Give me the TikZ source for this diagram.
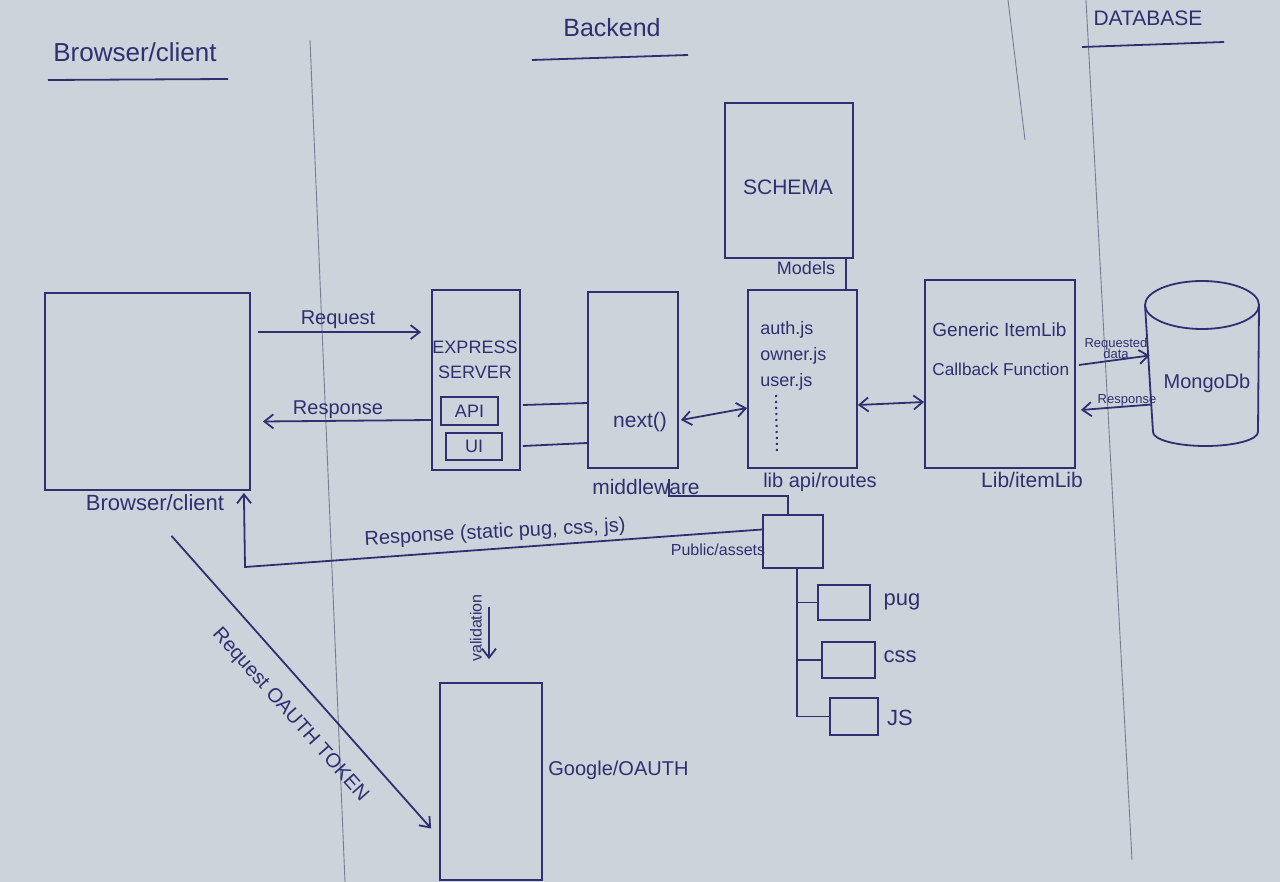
\documentclass[tikz,border=0pt]{standalone}
\usepackage{fontspec}
\setmainfont{Liberation Sans}
\usetikzlibrary{arrows.meta,calc,fit}
\definecolor{paper}{RGB}{204,211,219}
\definecolor{ink}{RGB}{46,48,112}
\definecolor{pencil}{RGB}{118,124,150}
\newcommand\fsz[1]{\fontsize{#1}{#1}\selectfont}
\begin{document}
\begin{tikzpicture}[x=0.5pt,y=-0.5pt,
  inkline/.style={draw=ink,line width=0.9pt},
  box/.style={draw=ink,line width=0.9pt,inner sep=0pt,fit={#1}},
  ghost/.style={inner sep=0pt,fit={#1}},
  txt/.style={text=ink,inner sep=1pt,font=\fsz{10}},
  arr/.style={inkline,-{Straight Barb[length=4.5pt,width=7pt]}},
  darr/.style={inkline,{Straight Barb[length=4.5pt,width=7pt]}-{Straight Barb[length=4.5pt,width=7pt]}},
  lane/.style={draw=pencil,line width=0.45pt}]
\fill[paper] (0,0) rectangle (1280,882);
\useasboundingbox (0,0) rectangle (1280,882);

% lane lines
\draw[lane] (310,40) -- (345,882);
\draw[lane] (1008,0) -- (1025,140);
\draw[lane] (1086,0) -- (1132,860);

% headers
\node[txt,font=\fsz{13}] (hclient) at (135,52) {Browser/client};
\draw[inkline] (48,80) -- (228,79);
\node[txt,font=\fsz{12.5}] (hback) at (612,28) {Backend};
\draw[inkline] (532,60) -- (688,55);
\node[txt,font=\fsz{10.5}] (hdb) at (1148,18) {DATABASE};
\draw[inkline] (1082,47) -- (1224,42);

% boxes
\node[box={(45,293) (250,490)}] (browser) {};
\node[box={(432,290) (520,470)}] (express) {};
\node[box={(441,397) (498,425)}] (api) {};
\node[box={(446,433) (502,460)}] (ui) {};
\node[box={(588,292) (678,468)}] (mw) {};
\node[box={(748,290) (857,468)}] (routes) {};
\node[box={(725,103) (853,258)}] (schema) {};
\node[box={(925,280) (1075,468)}] (itemlib) {};
\node[box={(763,515) (823,568)}] (public) {};
\node[box={(818,585) (870,620)}] (pug) {};
\node[box={(822,642) (875,678)}] (css) {};
\node[box={(830,698) (878,735)}] (js) {};
\node[box={(440,683) (542,880)}] (google) {};

% mongo cylinder
\node[ghost={(1145,281) (1259,446)}] (mongo) {};
\draw[inkline] (1202,305) ellipse [x radius=57, y radius=24];
\draw[inkline] (1145,305) -- (1153,432);
\draw[inkline] (1259,305) -- (1258,432);
\draw[inkline] (1153,432) arc[start angle=180, end angle=0, x radius=52.5, y radius=14];

% texts
\node[txt,font=\fsz{11}] (lbrowser) at (155,503) {Browser/client};
\node[txt,font=\fsz{9}] (texp1) at (475,347) {EXPRESS};
\node[txt,font=\fsz{9}] (texp2) at (475,372) {SERVER};
\node[txt,font=\fsz{9}] at (api) {API};
\node[txt,font=\fsz{9}] at (ui) {UI};
\node[txt,font=\fsz{10.5}] (tnext) at (640,422) {next()};
\node[txt,font=\fsz{10.5}] (lmw) at (646,487) {middleware};
\node[txt,font=\fsz{9},anchor=west] (tauth) at (758,330) {auth.js};
\node[txt,font=\fsz{9},anchor=west] (towner) at (758,356) {owner.js};
\node[txt,font=\fsz{9},anchor=west] (tuser) at (758,382) {user.js};
\draw[ink,line width=1pt,dotted] (776,395) -- (777,452);
\node[txt,font=\fsz{10}] (lroutes) at (820,482) {lib api/routes};
\node[txt,font=\fsz{10.5}] (tschema) at (788,187) {SCHEMA};
\node[txt,font=\fsz{9}] (lmodels) at (806,268) {Models};
\node[txt,font=\fsz{9.5},anchor=west] (tgen) at (930,330) {Generic ItemLib};
\node[txt,font=\fsz{8.6},anchor=west] (tcb) at (930,369) {Callback Function};
\node[txt,font=\fsz{10.5}] (litem) at (1032,480) {Lib/itemLib};
\node[txt,font=\fsz{10}] (tmongo) at (1207,383) {MongoDb};
\node[txt,font=\fsz{6.5},align=center] (treqd) at (1116,348) {Requested\\[-1pt]data};
\node[txt,font=\fsz{6.5}] (tresp2) at (1127,400) {Response};
\node[txt] (treq) at (338,320) {Request};
\node[txt] (tresp) at (338,410) {Response};
\node[txt,rotate=3] (tstatic) at (495,533) {Response (static pug, css, js)};
\node[txt,font=\fsz{8}] (lpublic) at (718,550) {Public/assets};
\node[txt,font=\fsz{11}] (lpug) at (902,602) {pug};
\node[txt,font=\fsz{11}] (lcss) at (900,657) {css};
\node[txt,font=\fsz{11}] (ljs) at (900,718) {JS};
\node[txt,rotate=-48.4] (toauth) at (290,715) {Request OAUTH TOKEN};
\node[txt,font=\fsz{10},anchor=west] (lgoogle) at (546,770) {Google/OAUTH};
\node[txt,font=\fsz{8},rotate=90] (tval) at (476,628) {validation};

% connectors
\draw[arr] ($(browser.north east)+(7,40)$) -- ($(express.north west)+(-10,43)$);
\draw[arr] ($(express.west)+(0,40)$) -- ($(browser.east)+(12,30)$);
\draw[inkline] ($(express.east)+(2,25)$) -- ($(mw.west)+(0,23)$);
\draw[inkline] ($(express.east)+(2,66)$) -- ($(mw.west)+(0,63)$);
\draw[darr] ($(mw.east)+(2,40)$) -- ($(routes.west)+(0,29)$);
\draw[darr] ($(routes.east)+(0,26)$) -- ($(itemlib.west)+(0,28)$);
\draw[inkline] ($(schema.south east)+(-8,0)$) -- ($(routes.north east)+(-12,0)$);
\draw[arr] ($(itemlib.east)+(3,-9)$) -- ($(mongo.west)+(5,-8)$);
\draw[arr] ($(mongo.west)+(7,41)$) -- ($(itemlib.east)+(5,36)$);
\draw[inkline] ($(mw.south east)+(-10,10)$) |- ($(public.north)+(-5,-18)$) -- ($(public.north)+(-5,0)$);
\coordinate (rc) at (245,567);
\draw[arr] ($(public.west)+(0,-12)$) -- (rc) -- ($(browser.south east)+(-7,2)$);
\coordinate (t0) at ($(public.south)+(4,0)$);
\draw[inkline] (t0) |- (pug.west);
\draw[inkline] (t0) |- (css.west);
\draw[inkline] (t0) |- (js.west);
\draw[arr] ($(browser.south)+(24,45)$) -- ($(google.west)+(-8,47)$);
\draw[arr] ($(google.north)+(-2,-75)$) -- ($(google.north)+(-2,-23)$);
\end{tikzpicture}
\end{document}
